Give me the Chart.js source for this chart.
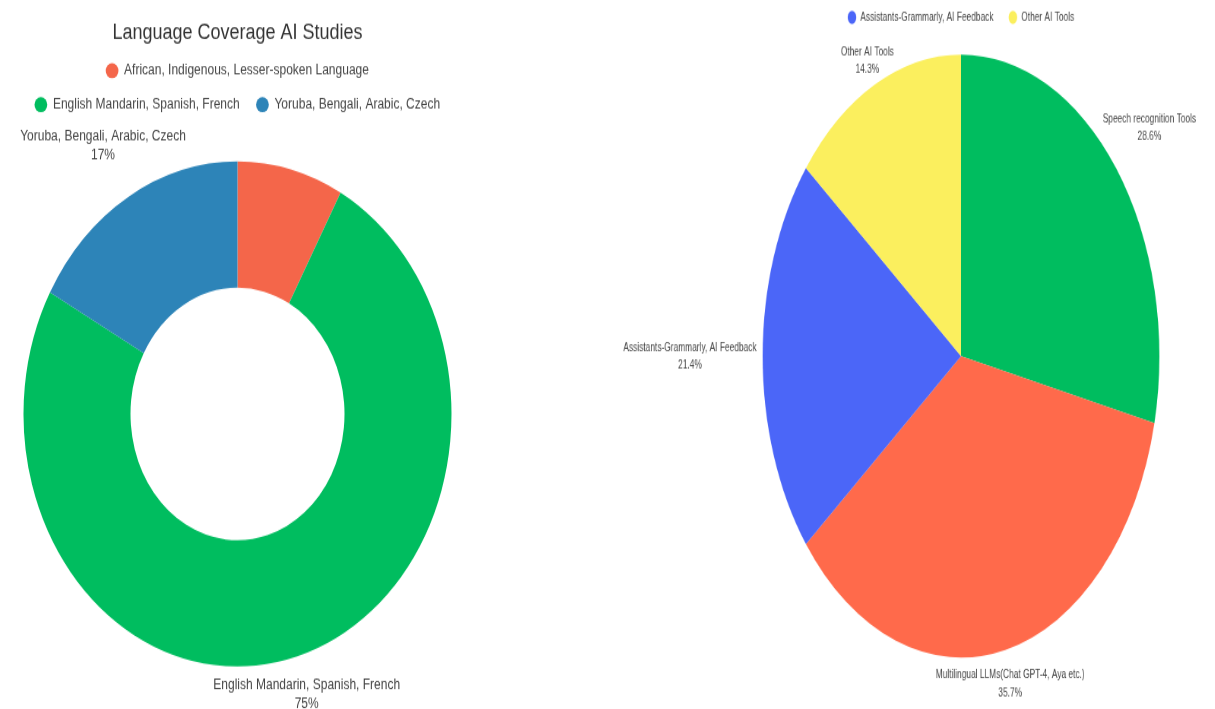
<!DOCTYPE html>
<html>
<head>
<meta charset="utf-8">
<script src="https://cdn.jsdelivr.net/npm/chart.js@4.4.1/dist/chart.umd.min.js"></script>
<style>
  html, body { margin: 0; padding: 0; background: #fff; overflow: hidden; width: 1215px; height: 709px; }
  #langChart { position: absolute; left: 0; top: 0; transform-origin: 0 0; transform: scale(1, 1.18); }
  #toolChart { position: absolute; left: 581px; top: -60px; transform-origin: 0 0; transform: scale(0.76, 1.155); }
</style>
</head>
<body>
<canvas id="langChart" width="475" height="601" style="width:475px;height:601px"></canvas>
<canvas id="toolChart" width="1000" height="670" style="width:1000px;height:670px"></canvas>
<script>
const langLabels = ["African, Indigenous, Lesser-spoken Language", "English Mandarin, Spanish, French", "Yoruba, Bengali, Arabic, Czech"];
const langValues = [8, 75, 17];
const langColors = ["#f4664a", "#00bd5f", "#2d84b8"];

const toolLabels = ["Speech recognition Tools", "Multilingual LLMs(Chat GPT-4, Aya etc.)", "Assistants-Grammarly, AI Feedback", "Other AI Tools"];
const toolValues = [4, 5, 3, 2];
const toolColors = ["#00bd5f", "#ff6a4b", "#4b66f8", "#fbef5e"];

const FONT = "'Liberation Sans', Arial, sans-serif";

// labels outside each slice: name on top, percent below
const outLabels = {
    id: "outLabels",
    afterDatasetsDraw(chart, args, opts) {
        const ctx = chart.ctx;
        const meta = chart.getDatasetMeta(0);
        const data = chart.data.datasets[0].data;
        const total = data.reduce((a, b) => a + b, 0);
        ctx.save();
        ctx.font = opts.size + "px " + FONT;
        ctx.fillStyle = opts.color;
        ctx.textAlign = "center";
        ctx.textBaseline = "middle";
        meta.data.forEach((arc, i) => {
            const pct = data[i] / total * 100;
            if (pct < opts.min) return;
            const p = arc.getProps(["x", "y", "startAngle", "endAngle", "outerRadius"], true);
            const mid = (p.startAngle + p.endAngle) / 2;
            const cx = Math.cos(mid), cy = Math.sin(mid);
            const lines = [chart.data.labels[i], pct.toFixed(opts.decimals) + "%"];
            const w = Math.max(...lines.map(t => ctx.measureText(t).width));
            const d = p.outerRadius + opts.offset + Math.abs(cx) * w / 2;
            const lx = p.x + cx * d, ly = p.y + cy * d;
            lines.forEach((t, k) => ctx.fillText(t, lx, ly + (k - (lines.length - 1) / 2) * opts.lineHeight));
        });
        ctx.restore();
    }
};

new Chart(document.getElementById("langChart"), {
    type: "doughnut",
    data: {
        labels: langLabels,
        datasets: [{ data: langValues, backgroundColor: langColors, borderWidth: 0, hoverOffset: 0 }]
    },
    options: {
        responsive: false,
        animation: false,
        events: [],
        devicePixelRatio: 1,
        radius: 214,
        cutout: "50%",
        layout: { padding: { top: 0, bottom: 4, left: 0, right: 0 } },
        plugins: {
            title: {
                display: true,
                text: "Language Coverage AI Studies",
                color: "#333",
                font: { family: FONT, size: 18, weight: "normal" },
                padding: { top: 17.5, bottom: -2 }
            },
            legend: {
                position: "top",
                labels: {
                    usePointStyle: true,
                    pointStyle: "circle",
                    boxHeight: 9,
                    padding: 16.8,
                    color: "#444",
                    font: { family: FONT, size: 12 }
                }
            },
            tooltip: { enabled: false },
            outLabels: { size: 12, color: "#444", lineHeight: 16, offset: 8, min: 10, decimals: 0 }
        }
    },
    plugins: [outLabels]
});

new Chart(document.getElementById("toolChart"), {
    type: "pie",
    data: {
        labels: toolLabels,
        datasets: [{ data: toolValues, backgroundColor: toolColors, borderWidth: 0, hoverOffset: 0 }]
    },
    options: {
        responsive: false,
        animation: false,
        events: [],
        devicePixelRatio: 1,
        radius: 261,
        layout: { padding: { top: 10.5, bottom: 32, left: 200, right: 200 } },
        plugins: {
            legend: {
                position: "top",
                labels: {
                    usePointStyle: true,
                    pointStyle: "circle",
                    boxHeight: 8,
                    padding: 20,
                    color: "#444",
                    font: { family: FONT, size: 11 }
                }
            },
            tooltip: { enabled: false },
            outLabels: { size: 11, color: "#444", lineHeight: 15.4, offset: 8, min: 0, decimals: 1 }
        }
    },
    plugins: [outLabels]
});
</script>
</body>
</html>
